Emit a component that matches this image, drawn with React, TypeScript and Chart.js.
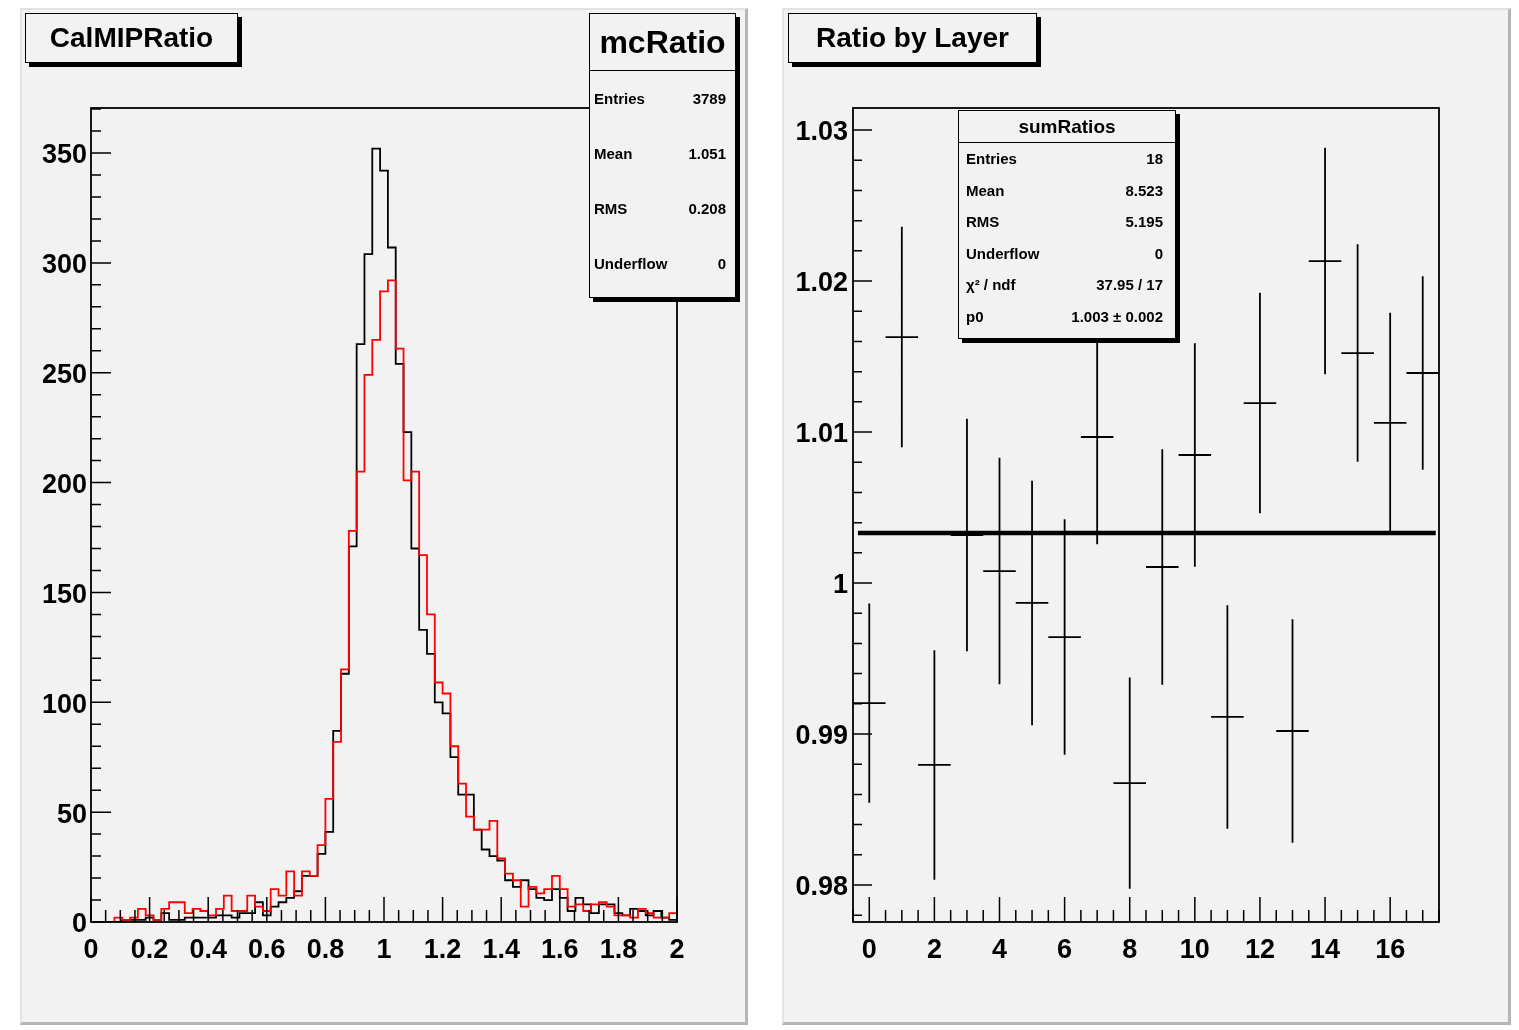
import React, { useEffect, useRef } from "react";
import { Chart, registerables } from "chart.js";

Chart.register(...registerables);

const FONT = "'Liberation Sans', Arial, Helvetica, sans-serif";

// ---------- Left pad: CalMIPRatio (75 bins over [0, 2]) ----------
const histMin = 0;
const histMax = 2;
const dataCounts = [
  0, 0, 0, 0, 1, 1, 1, 2, 1, 4,
  1, 1, 2, 2, 2, 2, 3, 3, 2, 4,
  4, 9, 3, 7, 9, 11, 14, 21, 21, 31,
  41, 87, 113, 171, 263, 304, 352, 342, 307, 254,
  223, 170, 133, 122, 100, 95, 75, 58, 58, 42,
  33, 30, 28, 19, 16, 19, 15, 11, 10, 15,
  11, 5, 11, 8, 4, 8, 8, 4, 3, 6,
  5, 3, 5, 2, 1,
];
const mcCounts = [
  0, 0, 0, 2, 1, 2, 6, 3, 1, 6,
  9, 9, 4, 6, 5, 3, 6, 12, 5, 5,
  12, 7, 5, 15, 12, 23, 12, 23, 21, 35,
  56, 82, 115, 178, 205, 249, 265, 287, 292, 261,
  201, 205, 167, 140, 109, 104, 80, 63, 48, 42,
  42, 46, 29, 22, 19, 7, 16, 13, 15, 21,
  15, 7, 8, 5, 8, 9, 7, 3, 3, 2,
  6, 4, 2, 2, 4,
];
const histXTicks = [0, 0.2, 0.4, 0.6, 0.8, 1, 1.2, 1.4, 1.6, 1.8, 2];
const histYTicks = [0, 50, 100, 150, 200, 250, 300, 350];
const histYMax = 370.5;

const mcRatioStats: [string, string][] = [
  ["Entries", "3789"],
  ["Mean", "1.051"],
  ["RMS", "0.208"],
  ["Underflow", "0"],
];

// ---------- Right pad: Ratio by Layer ----------
const layers = [0, 1, 2, 3, 4, 5, 6, 7, 8, 9, 10, 11, 12, 13, 14, 15, 16, 17];
const ratios = [
  0.99205, 1.01629, 0.98795, 1.00318, 1.00079, 0.99868, 0.99642, 1.00967, 0.98675,
  1.00106, 1.00848, 0.99113, 1.01192, 0.9902, 1.02132, 1.01523, 1.0106, 1.01391,
];
const ratioErrors = [
  0.0066, 0.0073, 0.0076, 0.0077, 0.0075, 0.0081, 0.0078, 0.0071, 0.007,
  0.0078, 0.0074, 0.0074, 0.0073, 0.0074, 0.0075, 0.0072, 0.0073, 0.0064,
];
const fitP0 = 1.00331;
const fitRange = [-0.35, 17.4];
const layerXTicks = [0, 2, 4, 6, 8, 10, 12, 14, 16];
const ratioYTicks = [0.98, 0.99, 1, 1.01, 1.02, 1.03];
const layerXRange = [-0.5, 17.5];
const ratioYRange = [0.97755, 1.03146];

const sumRatiosStats: [string, string][] = [
  ["Entries", "18"],
  ["Mean", "8.523"],
  ["RMS", "5.195"],
  ["Underflow", "0"],
  ["χ² / ndf", "37.95 / 17"],
  ["p0", "1.003 ± 0.002"],
];

function fmtTick(v: number) {
  return String(parseFloat(Number(v).toFixed(3)));
}

// Draws the ROOT-style frame and inward ticks using the chart's scales
const rootAxes = {
  id: "rootAxes",
  afterDatasetsDraw(chart: any, _args: any, opts: any) {
    const { ctx, chartArea: a, scales } = chart;
    const x = scales.x;
    const y = scales.y;
    ctx.save();
    ctx.strokeStyle = "#000";
    ctx.lineWidth = 1.5;
    ctx.beginPath();
    const minorTicks = (scale: any, step: number) => {
      const out: number[] = [];
      const start = Math.ceil((scale.min - 1e-9) / step);
      const end = Math.floor((scale.max + 1e-9) / step);
      for (let i = start; i <= end; i++) out.push(i * step);
      return out;
    };
    for (const v of minorTicks(x, opts.xMinor)) {
      const px = x.getPixelForValue(v);
      ctx.moveTo(px, a.bottom);
      ctx.lineTo(px, a.bottom - opts.xMinorLen);
    }
    for (const t of x.ticks) {
      const px = x.getPixelForValue(t.value);
      ctx.moveTo(px, a.bottom);
      ctx.lineTo(px, a.bottom - opts.xMajorLen);
    }
    for (const v of minorTicks(y, opts.yMinor)) {
      const py = y.getPixelForValue(v);
      ctx.moveTo(a.left, py);
      ctx.lineTo(a.left + opts.yMinorLen, py);
    }
    for (const t of y.ticks) {
      const py = y.getPixelForValue(t.value);
      ctx.moveTo(a.left, py);
      ctx.lineTo(a.left + opts.yMajorLen, py);
    }
    ctx.stroke();
    ctx.lineWidth = 1.8;
    ctx.strokeRect(a.left, a.top, a.right - a.left, a.bottom - a.top);
    ctx.restore();
  },
};

function axisOptions(
  range: number[],
  tickValues: number[],
  axis: "x" | "y",
  size: number,
  padding: number
) {
  return {
    type: "linear",
    position: axis === "x" ? "bottom" : "left",
    min: range[0],
    max: range[1],
    grid: { display: false, drawTicks: false },
    border: { display: false },
    afterBuildTicks: (scale: any) => {
      scale.ticks = tickValues.map((v) => ({ value: v }));
    },
    afterFit: (scale: any) => {
      if (axis === "x") scale.height = size;
      else scale.width = size;
    },
    ticks: {
      autoSkip: false,
      maxRotation: 0,
      padding,
      labelOffset: axis === "y" ? 3 : 0,
      color: "#000",
      font: { family: FONT, size: 27, weight: "bold" },
      callback: (v: any) => fmtTick(v),
    },
  };
}

function StatsBox(props: {
  left: number;
  top: number;
  width: number;
  height: number;
  headerHeight: number;
  title: string;
  titleSize: number;
  rows: [string, string][];
  rowSize: number;
  padL: number;
  padR: number;
  padBottom: number;
}) {
  const p = props;
  return (
    <div
      style={{
        position: "absolute",
        left: p.left,
        top: p.top,
        width: p.width,
        height: p.height,
        boxSizing: "border-box",
        border: "1.5px solid #000",
        background: "#f2f2f2",
        boxShadow: "4px 4px 0 #000",
        fontFamily: FONT,
        fontWeight: "bold",
        color: "#000",
        display: "flex",
        flexDirection: "column",
      }}
    >
      <div
        style={{
          height: p.headerHeight,
          flex: "none",
          borderBottom: "1.5px solid #000",
          display: "flex",
          alignItems: "center",
          justifyContent: "center",
          fontSize: p.titleSize,
        }}
      >
        {p.title}
      </div>
      <div
        style={{
          flex: 1,
          display: "flex",
          flexDirection: "column",
          paddingBottom: p.padBottom,
        }}
      >
        {p.rows.map(([k, v]) => (
          <div
            key={k}
            style={{
              flex: 1,
              display: "flex",
              alignItems: "center",
              justifyContent: "space-between",
              padding: `0 ${p.padR}px 0 ${p.padL}px`,
              fontSize: p.rowSize,
            }}
          >
            <span>{k}</span>
            <span>{v}</span>
          </div>
        ))}
      </div>
    </div>
  );
}

function TitleBox(props: { left: number; top: number; width: number; text: string }) {
  return (
    <div
      style={{
        position: "absolute",
        left: props.left,
        top: props.top,
        width: props.width,
        height: 50,
        boxSizing: "border-box",
        border: "1.5px solid #000",
        background: "#f2f2f2",
        boxShadow: "4px 4px 0 #000",
        display: "flex",
        alignItems: "center",
        justifyContent: "center",
        fontFamily: FONT,
        fontWeight: "bold",
        fontSize: 28,
        color: "#000",
      }}
    >
      {props.text}
    </div>
  );
}

const padStyle = (left: number, width: number): React.CSSProperties => ({
  position: "absolute",
  left,
  top: 8,
  width,
  height: 1017,
  boxSizing: "border-box",
  background: "#f2f2f2",
  borderTop: "2px solid #e2e2e2",
  borderLeft: "2px solid #e2e2e2",
  borderRight: "3px solid #b5b5b5",
  borderBottom: "3px solid #b5b5b5",
});

export default function App() {
  const leftRef = useRef<HTMLCanvasElement>(null);
  const rightRef = useRef<HTMLCanvasElement>(null);

  useEffect(() => {
    const nBins = dataCounts.length;
    const binW = (histMax - histMin) / nBins;
    const toSteps = (counts: number[]) => {
      const pts = counts.map((c, i) => ({ x: histMin + i * binW, y: c }));
      pts.push({ x: histMax, y: counts[counts.length - 1] });
      return pts;
    };

    const left = new Chart(leftRef.current as HTMLCanvasElement, {
      type: "scatter",
      data: {
        datasets: [
          {
            label: "mcRatio",
            data: toSteps(mcCounts),
            showLine: true,
            stepped: true,
            borderColor: "#ff0000",
            borderWidth: 1.8,
            pointRadius: 0,
            order: 1,
          },
          {
            label: "CalMIPRatio",
            data: toSteps(dataCounts),
            showLine: true,
            stepped: true,
            borderColor: "#000000",
            borderWidth: 1.8,
            pointRadius: 0,
            order: 2,
          },
        ],
      },
      options: {
        animation: false,
        responsive: false,
        devicePixelRatio: 1,
        events: [],
        layout: { padding: { top: 100, right: 70, left: 0, bottom: 0 } },
        scales: {
          x: axisOptions([histMin, histMax], histXTicks, "x", 103, 12),
          y: axisOptions([0, histYMax], histYTicks, "y", 71, 4),
        } as any,
        plugins: {
          legend: { display: false },
          tooltip: { enabled: false },
          rootAxes: {
            xMinor: 0.05,
            yMinor: 10,
            xMajorLen: 25,
            xMinorLen: 12,
            yMajorLen: 20,
            yMinorLen: 10,
          },
        } as any,
      },
      plugins: [rootAxes as any],
    });

    const vBars: any[] = [];
    const hBars: any[] = [];
    layers.forEach((l, i) => {
      vBars.push({ x: l, y: ratios[i] - ratioErrors[i] });
      vBars.push({ x: l, y: ratios[i] + ratioErrors[i] });
      vBars.push({ x: l, y: null });
      hBars.push({ x: l - 0.5, y: ratios[i] });
      hBars.push({ x: l + 0.5, y: ratios[i] });
      hBars.push({ x: l + 0.5, y: null });
    });

    const right = new Chart(rightRef.current as HTMLCanvasElement, {
      type: "scatter",
      data: {
        datasets: [
          {
            label: "fit",
            data: [
              { x: fitRange[0], y: fitP0 },
              { x: fitRange[1], y: fitP0 },
            ],
            showLine: true,
            borderColor: "#000",
            borderWidth: 4.5,
            pointRadius: 0,
            order: 1,
          },
          {
            label: "errors",
            data: vBars,
            showLine: true,
            spanGaps: false,
            borderColor: "#000",
            borderWidth: 1.8,
            pointRadius: 0,
            order: 2,
          },
          {
            label: "sumRatios",
            data: hBars,
            showLine: true,
            spanGaps: false,
            borderColor: "#000",
            borderWidth: 1.8,
            pointRadius: 0,
            order: 2,
          },
        ],
      },
      options: {
        animation: false,
        responsive: false,
        devicePixelRatio: 1,
        events: [],
        layout: { padding: { top: 100, right: 72, left: 0, bottom: 0 } },
        scales: {
          x: axisOptions(layerXRange, layerXTicks, "x", 103, 12),
          y: axisOptions(ratioYRange, ratioYTicks, "y", 70, 5),
        } as any,
        plugins: {
          legend: { display: false },
          tooltip: { enabled: false },
          rootAxes: {
            xMinor: 0.5,
            yMinor: 0.002,
            xMajorLen: 25,
            xMinorLen: 12,
            yMajorLen: 19,
            yMinorLen: 9,
          },
        } as any,
      },
      plugins: [rootAxes as any],
    });

    return () => {
      left.destroy();
      right.destroy();
    };
  }, []);

  return (
    <div
      style={{
        position: "absolute",
        left: 0,
        top: 0,
        width: 1519,
        height: 1030,
        background: "#ffffff",
        overflow: "hidden",
      }}
    >
      <div style={padStyle(20, 728)} />
      <div style={padStyle(782, 729)} />
      <canvas
        ref={leftRef}
        width={727}
        height={1017}
        style={{ position: "absolute", left: 20, top: 8, width: 727, height: 1017 }}
      />
      <canvas
        ref={rightRef}
        width={728}
        height={1017}
        style={{ position: "absolute", left: 783, top: 8, width: 728, height: 1017 }}
      />
      <TitleBox left={25} top={13} width={213} text="CalMIPRatio" />
      <TitleBox left={788} top={13} width={249} text="Ratio by Layer" />
      <StatsBox
        left={589}
        top={13}
        width={147}
        height={285}
        headerHeight={56}
        title="mcRatio"
        titleSize={32}
        rows={mcRatioStats}
        rowSize={15}
        padL={4}
        padR={9}
        padBottom={6}
      />
      <StatsBox
        left={958}
        top={110}
        width={218}
        height={229}
        headerHeight={31}
        title="sumRatios"
        titleSize={19}
        rows={sumRatiosStats}
        rowSize={15}
        padL={7}
        padR={12}
        padBottom={6}
      />
    </div>
  );
}
